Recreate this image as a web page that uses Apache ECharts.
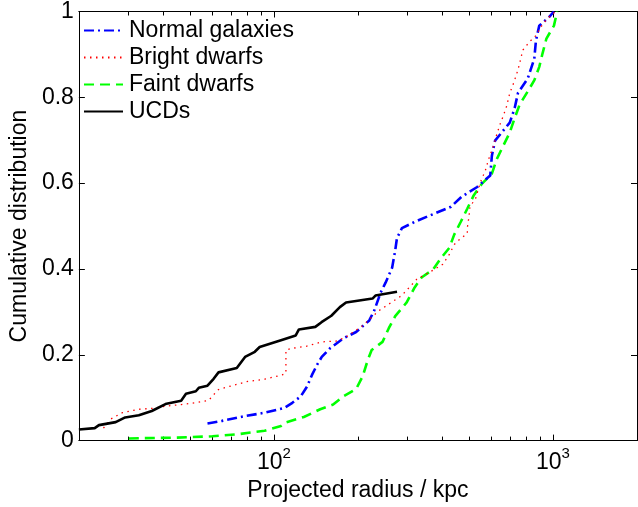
<!DOCTYPE html>
<html><head><meta charset="utf-8">
<script src="https://cdn.jsdelivr.net/npm/echarts@6/dist/echarts.min.js"></script>
<style>html,body{margin:0;padding:0;background:#fff}#c{width:638px;height:507px}</style>
</head><body><div id="c"></div>
<script>
// ---- data ----
const seriesNames = ['Normal galaxies', 'Bright dwarfs', 'Faint dwarfs', 'UCDs'];

const normalR = [57.8,65.2,78.8,92.6,108.9,116.4,124.7,131.4,136.9,142.6,148.4,158.8,177,197,219.6,228.7,241.3,251.2,265.2,272.3,276,287.5,320,366.6,431,470,535,596,604,620,655,700,729,749,812,857,869,893,968,1008];
const normalF = [0.04,0.046,0.057,0.065,0.076,0.088,0.103,0.126,0.153,0.176,0.195,0.215,0.238,0.253,0.28,0.303,0.345,0.368,0.403,0.445,0.472,0.495,0.51,0.526,0.545,0.568,0.591,0.618,0.664,0.699,0.718,0.741,0.775,0.81,0.844,0.89,0.933,0.967,0.987,1.0];

const brightR = [24.5,26,28.6,32.8,36.5,40.6,46.5,53.3,58.4,60.8,63.3,70.7,80.7,92.6,107,110.4,110.4,116,131,148,167,181,208,238,287,325,376,403,425,443,461,493,494,500,504,520,528,550,572,588,612,629,646,663,682,700,719,749,759,780,823,869,905,930,968,1022];
const brightF = [0.029,0.05,0.065,0.073,0.075,0.08,0.084,0.089,0.094,0.107,0.119,0.128,0.138,0.143,0.153,0.157,0.211,0.215,0.22,0.23,0.232,0.241,0.268,0.303,0.338,0.376,0.399,0.411,0.434,0.457,0.468,0.483,0.499,0.522,0.545,0.558,0.564,0.603,0.629,0.656,0.687,0.714,0.737,0.756,0.779,0.81,0.829,0.864,0.879,0.91,0.929,0.944,0.964,0.975,0.987,1.0];

const faintR = [30.2,45,60.2,74.6,92.6,106,110,128,146.5,163,177,197,208,217,224,245,258,272,299,318,338,372,397.6,425,442.6,467.3,493.4,520.4,556.9,604,629,663.4,700,729.5,759.4,812.4,857.6,892.9,917,947.3,1008,1035];
const faintF = [0.005,0.007,0.01,0.015,0.023,0.034,0.042,0.055,0.073,0.084,0.103,0.12,0.15,0.188,0.211,0.23,0.262,0.29,0.322,0.355,0.38,0.399,0.426,0.449,0.48,0.51,0.541,0.572,0.599,0.622,0.656,0.687,0.718,0.752,0.783,0.814,0.84,0.871,0.902,0.937,0.967,1.0];

const ucdR = [20,22.8,23.6,27.1,29.3,32.8,36.5,41.2,46.5,48.4,52.5,53.8,57.8,60.8,63.3,73.6,78.8,85.4,88.9,106,119.7,122.9,140.7,148.1,160.6,172.3,181.3,225.6,231.1,276.1];
const ucdF = [0.026,0.029,0.036,0.043,0.054,0.059,0.069,0.086,0.093,0.109,0.115,0.123,0.128,0.144,0.159,0.169,0.195,0.207,0.218,0.234,0.245,0.259,0.265,0.276,0.291,0.311,0.322,0.331,0.338,0.347];

const xMajorTicks = [100, 1000];
const xMinorTicks = [30,40,50,60,70,80,90,200,300,400,500,600,700,800,900];
const xMin = 20, xMax = 2000;
const yMin = 0, yMax = 1, yStep = 0.2;

// ---- chart ----
const FONT = '"Liberation Sans", Arial, Helvetica, sans-serif';
const pairs = (r, f) => r.map((v, i) => [v, f[i]]);
const tickData = xMajorTicks.concat(xMinorTicks).map(v => [v, yMin]);

function xAx(pos, showLabel) {
  return {
    type: 'log', logBase: 10, min: xMin, max: xMax, position: pos,
    axisLine: { show: true, onZero: false, lineStyle: { color: '#000', width: 1 } },
    axisTick: { show: false },
    minorTick: { show: false },
    splitLine: { show: false },
    axisLabel: showLabel ? {
      customValues: xMajorTicks, margin: 6, color: '#000',
      formatter: v => '{b|10}{s|' + Math.round(Math.log10(v)) + '}',
      rich: {
        b: { fontSize: 23, fontFamily: FONT, color: '#000', lineHeight: 32 },
        s: { fontSize: 15, fontFamily: FONT, color: '#000', lineHeight: 15, verticalAlign: 'top' }
      }
    } : { show: false }
  };
}

function renderTick(params, api) {
  const v = api.value(0);
  const pb = api.coord([v, yMin]);
  const pt = api.coord([v, yMax]);
  const L = xMajorTicks.indexOf(v) >= 0 ? 6 : 4;
  const x = Math.round(pb[0]) + 0.5;
  const st = { stroke: '#000', lineWidth: 1 };
  return {
    type: 'group',
    children: [
      { type: 'line', shape: { x1: x, y1: pb[1], x2: x, y2: pb[1] - L }, style: st },
      { type: 'line', shape: { x1: x, y1: pt[1], x2: x, y2: pt[1] + L }, style: st }
    ]
  };
}

const chart = echarts.init(document.getElementById('c'), null, { renderer: 'canvas' });
chart.setOption({
  animation: false,
  backgroundColor: '#fff',
  textStyle: { fontFamily: FONT },
  grid: { left: 70, right: 1, top: 8, bottom: 65, containLabel: false },
  legend: {
    orient: 'vertical', left: 83, top: 19, padding: 0,
    itemWidth: 39, itemHeight: 14, itemGap: 4,
    itemStyle: { opacity: 0, borderWidth: 0 },
    textStyle: { fontSize: 23, fontFamily: FONT, color: '#000', padding: [0, 0, 0, 1] },
    data: seriesNames
  },
  xAxis: [
    Object.assign(xAx('bottom', true), {
      name: 'Projected radius / kpc', nameLocation: 'middle', nameGap: 37,
      nameTextStyle: { fontSize: 23, fontFamily: FONT, color: '#000' }
    }),
    xAx('top', false)
  ],
  yAxis: [
    {
      type: 'value', min: yMin, max: yMax, interval: yStep, position: 'left',
      name: 'Cumulative distribution', nameLocation: 'middle', nameGap: 40,
      nameTextStyle: { fontSize: 23, fontFamily: FONT, color: '#000' },
      axisLine: { show: true, onZero: false, lineStyle: { color: '#000', width: 1 } },
      axisTick: { show: true, inside: true, length: 6, lineStyle: { color: '#000' } },
      splitLine: { show: false },
      axisLabel: { fontSize: 23, fontFamily: FONT, color: '#000', margin: 5 }
    },
    {
      type: 'value', min: yMin, max: yMax, interval: yStep, position: 'right',
      axisLine: { show: true, onZero: false, lineStyle: { color: '#000', width: 1 } },
      axisTick: { show: true, inside: true, length: 6, lineStyle: { color: '#000' } },
      splitLine: { show: false },
      axisLabel: { show: false }
    }
  ],
  series: [
    { name: 'xticks', type: 'custom', xAxisIndex: 0, yAxisIndex: 0, data: tickData,
      renderItem: renderTick, silent: true, clip: false, z: 1 },
    { name: seriesNames[0], type: 'line', data: pairs(normalR, normalF), showSymbol: false, symbol: 'none',
      lineStyle: { color: '#0000ff', width: 2.6, type: [10, 4, 2, 4] }, itemStyle: { color: '#0000ff' }, z: 3 },
    { name: seriesNames[1], type: 'line', data: pairs(brightR, brightF), showSymbol: false, symbol: 'none',
      lineStyle: { color: '#ff0000', width: 1.3, type: [1.5, 4.5] }, itemStyle: { color: '#ff0000' }, z: 4 },
    { name: seriesNames[2], type: 'line', data: pairs(faintR, faintF), showSymbol: false, symbol: 'none',
      lineStyle: { color: '#00ff00', width: 2.6, type: [10, 6] }, itemStyle: { color: '#00ff00' }, z: 2 },
    { name: seriesNames[3], type: 'line', data: pairs(ucdR, ucdF), showSymbol: false, symbol: 'none',
      lineStyle: { color: '#000000', width: 2.6, type: 'solid' }, itemStyle: { color: '#000' }, z: 5 }
  ]
});
</script></body></html>
